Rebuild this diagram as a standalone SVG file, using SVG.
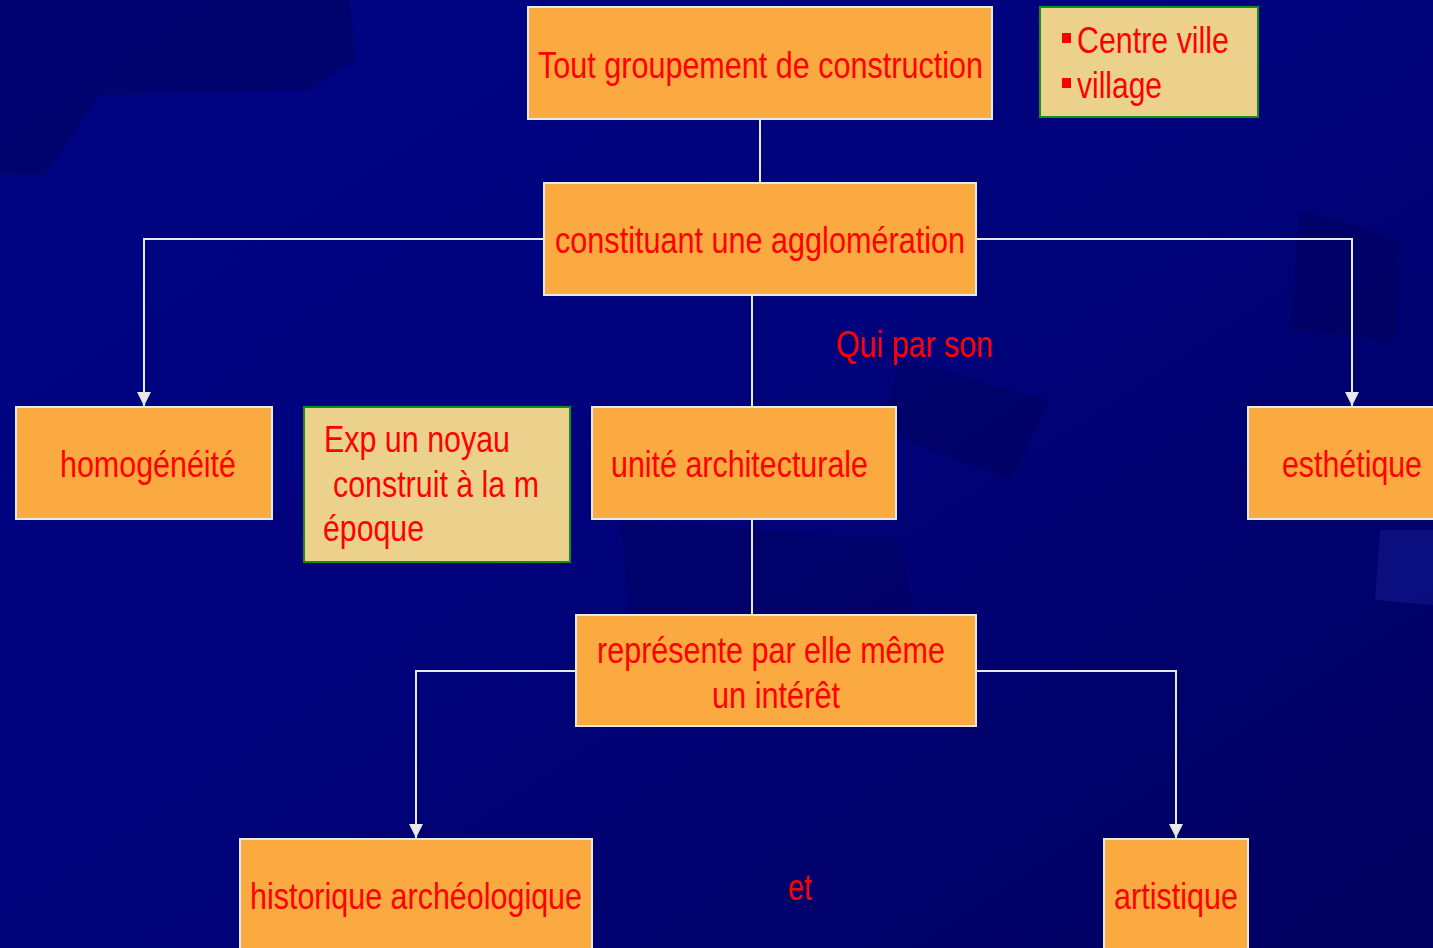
<svg xmlns="http://www.w3.org/2000/svg" width="1433" height="948" viewBox="0 0 1433 948">
<defs>
<linearGradient id="bg" x1="0" y1="0" x2="1" y2="1">
<stop offset="0" stop-color="#000585"/>
<stop offset="0.5" stop-color="#00027a"/>
<stop offset="1" stop-color="#00005e"/>
</linearGradient>
<marker id="arr" viewBox="0 0 10 10" refX="10" refY="5" markerWidth="14" markerHeight="14" orient="auto" markerUnits="userSpaceOnUse">
<path d="M0,0 L10,5 L0,10 z" fill="#e8e8e8"/>
</marker>
<style>
.box{fill:#fba941;stroke:#e8e8e8;stroke-width:2}
.tan{fill:#ebd18c;stroke:#10901a;stroke-width:2}
.t{font-family:"Liberation Sans Narrow","Liberation Sans",Arial,sans-serif;font-size:36px;fill:#ff0000}
.c{stroke:#e8e8e8;stroke-width:2;fill:none}
</style>
</defs>
<rect width="1433" height="948" fill="url(#bg)"/>
<g opacity="0.3">
<polygon points="0,0 350,0 355,60 310,90 100,95 45,175 0,175" fill="#000040"/>
<polygon points="1300,210 1400,240 1395,340 1290,330" fill="#00004a"/>
<polygon points="900,360 1050,400 1010,480 880,430" fill="#00004a"/>
<polygon points="1380,530 1433,530 1433,605 1375,600" fill="#2030b0"/>
<polygon points="620,520 900,540 930,700 640,720" fill="#000050"/>
</g>
<g id="connectors">
<line class="c" x1="760" y1="119" x2="760" y2="183"/>
<polyline class="c" points="544,239 144,239 144,406" marker-end="url(#arr)"/>
<polyline class="c" points="976,239 1352,239 1352,406" marker-end="url(#arr)"/>
<line class="c" x1="752" y1="295" x2="752" y2="407"/>
<line class="c" x1="752" y1="519" x2="752" y2="615"/>
<polyline class="c" points="576,671 416,671 416,838" marker-end="url(#arr)"/>
<polyline class="c" points="976,671 1176,671 1176,838" marker-end="url(#arr)"/>
</g>
<g id="n-tout">
<rect class="box" x="528" y="7" width="464" height="112"/>
<text class="t" x="538" y="78" textLength="445" lengthAdjust="spacingAndGlyphs">Tout groupement de construction</text>
</g>
<g id="n-centre">
<rect class="tan" x="1040" y="7" width="218" height="110"/>
<rect x="1062" y="33" width="9" height="10" fill="#ff0000"/>
<rect x="1062" y="78" width="9" height="10" fill="#ff0000"/>
<text class="t" x="1077" y="53" textLength="152" lengthAdjust="spacingAndGlyphs">Centre ville</text>
<text class="t" x="1077" y="98" textLength="85" lengthAdjust="spacingAndGlyphs">village</text>
</g>
<g id="n-constituant">
<rect class="box" x="544" y="183" width="432" height="112"/>
<text class="t" x="555" y="253" textLength="410" lengthAdjust="spacingAndGlyphs">constituant une agglomération</text>
</g>
<g id="l-qui">
<text class="t" x="836" y="357" textLength="157" lengthAdjust="spacingAndGlyphs">Qui par son</text>
</g>
<g id="n-homo">
<rect class="box" x="16" y="407" width="256" height="112"/>
<text class="t" x="60" y="477" textLength="176" lengthAdjust="spacingAndGlyphs">homogénéité</text>
</g>
<g id="n-exp">
<rect class="tan" x="304" y="407" width="266" height="155"/>
<text class="t" x="324" y="452" textLength="186" lengthAdjust="spacingAndGlyphs">Exp un noyau</text>
<text class="t" x="333" y="497" textLength="206" lengthAdjust="spacingAndGlyphs">construit à la m</text>
<text class="t" x="323" y="541" textLength="101" lengthAdjust="spacingAndGlyphs">époque</text>
</g>
<g id="n-unite">
<rect class="box" x="592" y="407" width="304" height="112"/>
<text class="t" x="611" y="477" textLength="257" lengthAdjust="spacingAndGlyphs">unité architecturale</text>
</g>
<g id="n-esth">
<rect class="box" x="1248" y="407" width="200" height="112"/>
<text class="t" x="1282" y="477" textLength="140" lengthAdjust="spacingAndGlyphs">esthétique</text>
</g>
<g id="n-repr">
<rect class="box" x="576" y="615" width="400" height="111"/>
<text class="t" x="597" y="663" textLength="348" lengthAdjust="spacingAndGlyphs">représente par elle même</text>
<text class="t" x="712" y="708" textLength="128" lengthAdjust="spacingAndGlyphs">un intérêt</text>
</g>
<g id="n-hist">
<rect class="box" x="240" y="839" width="352" height="120"/>
<text class="t" x="250" y="909" textLength="332" lengthAdjust="spacingAndGlyphs">historique archéologique</text>
</g>
<g id="l-et">
<text class="t" x="788" y="900" textLength="24" lengthAdjust="spacingAndGlyphs">et</text>
</g>
<g id="n-art">
<rect class="box" x="1104" y="839" width="144" height="120"/>
<text class="t" x="1114" y="909" textLength="124" lengthAdjust="spacingAndGlyphs">artistique</text>
</g>
</svg>
